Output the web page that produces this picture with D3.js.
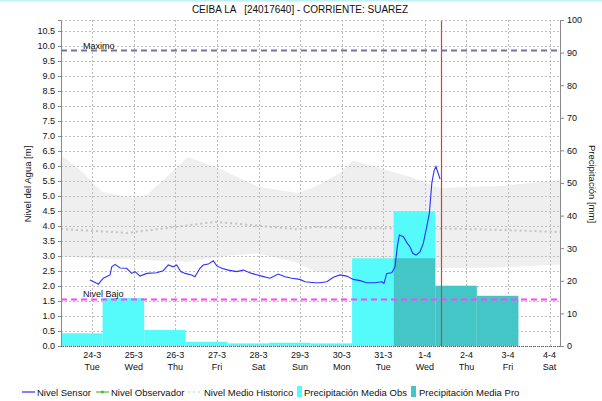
<!DOCTYPE html>
<html>
<head>
<meta charset="utf-8">
<script src="https://cdn.jsdelivr.net/npm/d3@7"></script>
<style>
  body { margin: 0; background: #fff; }
  svg { display: block; font-family: "Liberation Sans", Arial, sans-serif; }
</style>
</head>
<body>
<div id="graph"></div>
<script>
// etiquetas de dias
var dayLabels = ["24-3", "25-3", "26-3", "27-3", "28-3", "29-3", "30-3", "31-3", "1-4", "2-4", "3-4", "4-4"];
var weekLabels = ["Tue", "Wed", "Thu", "Fri", "Sat", "Sun", "Mon", "Tue", "Wed", "Thu", "Fri", "Sat"];
var dayDates = ["2020-03-24", "2020-03-25", "2020-03-26", "2020-03-27", "2020-03-28", "2020-03-29",
  "2020-03-30", "2020-03-31", "2020-04-01", "2020-04-02", "2020-04-03", "2020-04-04"];

// nivel sensor (horas desde 24-3 00:00, metros)
var sensorHours = [-1.3, 2.6, 3.5, 6.4, 10.3, 11.3, 13.2, 16.1, 19.9, 22.8, 24.7, 27.6, 31.5, 37.2, 41.0,
  43.9, 46.8, 48.8, 51.1, 53.6, 57.4, 59.3, 62.2, 64.1, 67.0, 69.9, 71.9, 74.8, 78.6, 83.4, 87.2, 92.1,
  97.8, 102.6, 107.4, 111.3, 115.2, 119.9, 122.8, 128.6, 131.5, 135.4, 139.2, 143.0, 146.9, 150.7, 154.6,
  158.4, 163.2, 167.1, 168.4, 170.0, 172.9, 174.8, 176.1, 177.3, 179.6, 181.9, 183.4, 185.0, 186.9, 189.2,
  191.1, 193.1, 194.6, 196.0, 197.3, 198.4, 199.4, 200.8];
var sensorLevels = [2.20, 2.09, 2.06, 2.26, 2.37, 2.64, 2.72, 2.60, 2.59, 2.42, 2.48, 2.33, 2.42, 2.44, 2.51,
  2.70, 2.64, 2.70, 2.48, 2.42, 2.37, 2.31, 2.59, 2.70, 2.73, 2.84, 2.67, 2.59, 2.53, 2.48, 2.53, 2.42,
  2.33, 2.26, 2.40, 2.31, 2.26, 2.22, 2.14, 2.11, 2.11, 2.14, 2.29, 2.37, 2.33, 2.22, 2.18,
  2.11, 2.11, 2.14, 2.09, 2.42, 2.44, 2.64, 3.31, 3.70, 3.64, 3.42, 3.31, 3.09, 3.03, 3.14,
  3.42, 3.98, 4.42, 5.42, 5.84, 5.98, 5.81, 5.56];

// banda historica
var bandHours = [-18, -7, 5.5, 23.6, 31.6, 55.3, 72.6, 95.7, 118.8, 128.6, 143, 150.5, 183.4, 200.8, 235.4, 270];
var bandUpper = [6.37, 5.87, 5.14, 4.93, 5.03, 6.30, 5.93, 5.31, 5.10, 5.31, 5.77, 6.18, 5.64, 5.27, 5.33, 5.53];
var bandLower = [2.98, 2.95, 2.92, 2.88, 2.86, 2.81, 2.98, 3.09, 2.77, 2.48, 2.43, 2.45, 2.55, 2.60, 2.62, 2.72];

// nivel medio historico
var medioHours = [-18, 20.1, 56.5, 70.9, 92.2, 118.8, 128.6, 150.5, 200.8, 235.4, 270];
var medioLevels = [3.90, 3.77, 4.03, 4.14, 4.03, 3.89, 3.97, 3.93, 3.92, 3.87, 3.80];

// precipitacion (mm)
var obsDays = ["2020-03-24", "2020-03-25", "2020-03-26", "2020-03-27", "2020-03-28", "2020-03-29", "2020-03-30", "2020-03-31", "2020-04-01"];
var obsValues = [3.9, 14.7, 4.9, 1.3, 0.8, 1.0, 0.8, 26.9, 41.3];
var proDays = ["2020-04-01", "2020-04-02", "2020-04-03"];
var proValues = [26.9, 18.5, 15.4];

var nivelMaximo = 9.85;
var nivelBajo = 1.55;
var ahora = "2020-04-01T09:20";

var W = 602, H = 401;
var mLeft = 61, mRight = 560, mTop = 20, mBottom = 346;

var parseDay = d3.timeParse("%Y-%m-%d");
var parseTime = d3.timeParse("%Y-%m-%dT%H:%M");
var base = parseDay("2020-03-24");
function fromHours(h) { return new Date(base.getTime() + h * 3600000); }

var xScale = d3.scaleTime()
  .domain([parseTime("2020-03-23T06:00"), parseTime("2020-04-04T06:00")])
  .range([mLeft, mRight]);
var yScale = d3.scaleLinear().domain([0, 10.867]).range([mBottom, mTop]);
var y2Scale = d3.scaleLinear().domain([0, 100]).range([mBottom, mTop]);

var svg = d3.select("#graph").append("svg").attr("width", W).attr("height", H);

svg.append("rect").attr("x", 0).attr("y", 0).attr("width", W).attr("height", 1.5).attr("fill", "#bdf2f8");

// titulo
svg.append("text")
  .attr("x", 300).attr("y", 13)
  .attr("text-anchor", "middle")
  .attr("font-size", 10)
  .attr("fill", "#111")
  .style("white-space", "pre")
  .text("CEIBA LA   [24017640] - CORRIENTE: SUAREZ");

// banda
var band = bandHours.map(function (h, i) { return { t: fromHours(h), hi: bandUpper[i], lo: bandLower[i] }; });
svg.append("path")
  .datum(band)
  .attr("fill", "#efefef")
  .attr("d", d3.area()
    .x(function (d) { return xScale(d.t); })
    .y0(function (d) { return yScale(d.lo); })
    .y1(function (d) { return yScale(d.hi); }));

// medio
var medio = medioHours.map(function (h, i) { return { t: fromHours(h), v: medioLevels[i] }; });
svg.append("path")
  .datum(medio)
  .attr("fill", "none")
  .attr("stroke", "#c4c4c4")
  .attr("stroke-width", 2)
  .attr("stroke-dasharray", "2,3")
  .attr("d", d3.line().x(function (d) { return xScale(d.t); }).y(function (d) { return yScale(d.v); }));

// grilla
var yTicks = d3.range(0, 10.51, 0.5);
svg.append("g").selectAll("line").data(yTicks).enter().append("line")
  .attr("x1", mLeft).attr("x2", mRight)
  .attr("y1", function (d) { return Math.round(yScale(d)) + 0.5; })
  .attr("y2", function (d) { return Math.round(yScale(d)) + 0.5; })
  .attr("stroke", "#bdbdbd").attr("stroke-dasharray", "2,2");
svg.append("g").selectAll("line").data(dayDates).enter().append("line")
  .attr("x1", function (d) { return Math.round(xScale(parseDay(d))) + 0.5; })
  .attr("x2", function (d) { return Math.round(xScale(parseDay(d))) + 0.5; })
  .attr("y1", mTop).attr("y2", mBottom)
  .attr("stroke", "#bdbdbd").attr("stroke-dasharray", "2,2");

// barras precipitacion: del dia anterior 06:00 al dia 06:00
function barX0(d) { return xScale(d3.timeHour.offset(parseDay(d), -18)); }
function barX1(d) { return xScale(d3.timeHour.offset(parseDay(d), 6)); }
svg.append("g").selectAll("rect").data(obsDays).enter().append("rect")
  .attr("x", function (d) { return barX0(d); })
  .attr("width", function (d) { return barX1(d) - barX0(d); })
  .attr("y", function (d, i) { return y2Scale(obsValues[i]); })
  .attr("height", function (d, i) { return mBottom - y2Scale(obsValues[i]); })
  .attr("fill", "#55fafa");
svg.append("g").selectAll("rect").data(proDays).enter().append("rect")
  .attr("x", function (d) { return barX0(d); })
  .attr("width", function (d) { return barX1(d) - barX0(d); })
  .attr("y", function (d, i) { return y2Scale(proValues[i]); })
  .attr("height", function (d, i) { return mBottom - y2Scale(proValues[i]); })
  .attr("fill", "#44c6c6");

// niveles de referencia
svg.append("line")
  .attr("x1", mLeft).attr("x2", mRight)
  .attr("y1", yScale(nivelMaximo)).attr("y2", yScale(nivelMaximo))
  .attr("stroke", "#6b77a6").attr("stroke-width", 2).attr("stroke-dasharray", "6,4");
svg.append("text").attr("x", 83).attr("y", yScale(nivelMaximo) - 2)
  .attr("font-size", 9).attr("fill", "#111").text("Maximo");
svg.append("line")
  .attr("x1", mLeft).attr("x2", mRight)
  .attr("y1", yScale(nivelBajo)).attr("y2", yScale(nivelBajo))
  .attr("stroke", "#ff44ff").attr("stroke-width", 2).attr("stroke-dasharray", "6,4");
svg.append("text").attr("x", 83).attr("y", yScale(nivelBajo) - 3)
  .attr("font-size", 9).attr("fill", "#111").text("Nivel Bajo");

// nivel sensor
var sensor = sensorHours.map(function (h, i) { return { t: fromHours(h), v: sensorLevels[i] }; });
svg.append("path")
  .datum(sensor)
  .attr("fill", "none")
  .attr("stroke", "#2f2fff")
  .attr("stroke-width", 1.1)
  .attr("d", d3.line().x(function (d) { return xScale(d.t); }).y(function (d) { return yScale(d.v); }));

// ahora
var xNow = Math.round(xScale(parseTime(ahora))) + 0.5;
svg.append("line")
  .attr("x1", xNow).attr("x2", xNow)
  .attr("y1", mTop).attr("y2", mBottom)
  .style("stroke", "#e03c3c")
  .style("stroke-width", 1.2);

// ejes
var yAxis = d3.axisLeft(yScale).tickValues(yTicks).tickFormat(d3.format(".1f")).tickSize(3).tickPadding(3);
var gy = svg.append("g").attr("transform", "translate(" + mLeft + ",0)").call(yAxis);
var y2Axis = d3.axisRight(y2Scale).tickValues(d3.range(0, 101, 10)).tickSize(4).tickPadding(3);
var gy2 = svg.append("g").attr("transform", "translate(" + mRight + ",0)").call(y2Axis);
[gy, gy2].forEach(function (g) {
  g.select(".domain").attr("stroke", "#8a8a8a");
  g.selectAll(".tick line").attr("stroke", "#8a8a8a");
  g.selectAll("text").attr("font-size", 9).attr("fill", "#111").attr("font-family", "Liberation Sans, Arial, sans-serif");
});

svg.append("line").attr("x1", mLeft).attr("x2", mRight).attr("y1", mBottom + 0.5).attr("y2", mBottom + 0.5)
  .attr("stroke", "#555").attr("stroke-dasharray", "1,1");
svg.append("line").attr("x1", mLeft).attr("x2", mRight).attr("y1", mTop + 0.5).attr("y2", mTop + 0.5)
  .attr("stroke", "#bdbdbd").attr("stroke-dasharray", "2,2");

// etiquetas eje x
var xl = svg.append("g").selectAll("g").data(dayDates).enter().append("g")
  .attr("transform", function (d) { return "translate(" + xScale(parseDay(d)) + ",0)"; });
xl.append("text").attr("y", 358).attr("text-anchor", "middle").attr("font-size", 9).attr("fill", "#111")
  .text(function (d, i) { return dayLabels[i]; });
xl.append("text").attr("y", 370).attr("text-anchor", "middle").attr("font-size", 9).attr("fill", "#111")
  .text(function (d, i) { return weekLabels[i]; });

// titulos de ejes
svg.append("text")
  .attr("transform", "translate(31,184) rotate(-90)")
  .attr("text-anchor", "middle").attr("font-size", 9.5).attr("fill", "#111")
  .text("Nivel del Agua [m]");
svg.append("text")
  .attr("transform", "translate(589,184) rotate(90)")
  .attr("text-anchor", "middle").attr("font-size", 9.5).attr("fill", "#111")
  .text("Precipitación [mm]");

// leyenda
var ly = 392;
var legend = svg.append("g").attr("font-size", 9.5).attr("fill", "#111");
legend.append("line").attr("x1", 22).attr("x2", 35).attr("y1", ly).attr("y2", ly).attr("stroke", "#2f2fff").attr("stroke-width", 1.2);
legend.append("text").attr("x", 37).attr("y", ly + 3.5).text("Nivel Sensor");
legend.append("line").attr("x1", 96).attr("x2", 109).attr("y1", ly).attr("y2", ly).attr("stroke", "#55bb33").attr("stroke-width", 1.2);
legend.append("circle").attr("cx", 102.5).attr("cy", ly).attr("r", 1.6).attr("fill", "#55bb33");
legend.append("text").attr("x", 111).attr("y", ly + 3.5).text("Nivel Observador");
legend.append("line").attr("x1", 188).attr("x2", 202).attr("y1", ly).attr("y2", ly).attr("stroke", "#c4c4c4").attr("stroke-width", 1).attr("stroke-dasharray", "2,3");
legend.append("text").attr("x", 204).attr("y", ly + 3.5).text("Nivel Medio Historico");
legend.append("rect").attr("x", 297).attr("y", 386).attr("width", 5).attr("height", 11).attr("fill", "#55fafa");
legend.append("text").attr("x", 304).attr("y", ly + 3.5).text("Precipitación Media Obs");
legend.append("rect").attr("x", 411).attr("y", 386).attr("width", 5).attr("height", 11).attr("fill", "#44c6c6");
legend.append("text").attr("x", 419).attr("y", ly + 3.5).text("Precipitación Media Pro");
</script>
</body>
</html>
